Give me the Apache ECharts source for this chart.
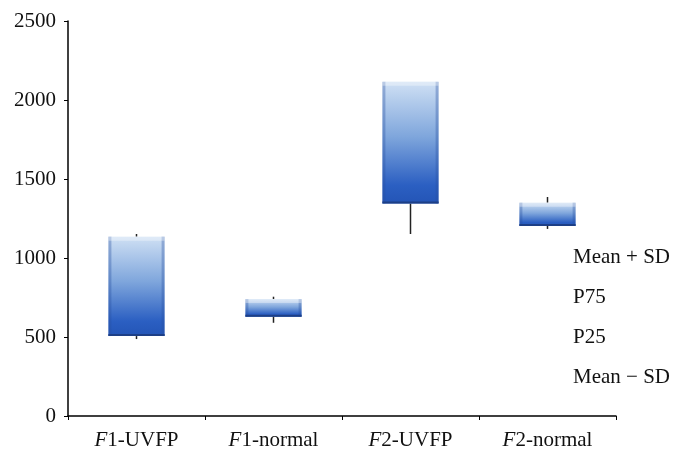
<!DOCTYPE html>
<html>
<head>
<meta charset="utf-8">
<script src="https://cdn.jsdelivr.net/npm/echarts@6/dist/echarts.min.js"></script>
<style>
  html, body { margin: 0; padding: 0; background: #fff; }
  #chart { width: 686px; height: 458px; }
</style>
</head>
<body>
<div id="chart"></div>
<script>
// groups on the x axis
var categories = ["F1-UVFP", "F1-normal", "F2-UVFP", "F2-normal"];
// box = P25..P75, whiskers = Mean - SD .. Mean + SD
var meanMinusSD = [487, 590, 1152, 1184];
var p25 = [506, 628, 1345, 1203];
var p75 = [1135, 740, 2115, 1350];
var meanPlusSD = [1152, 755, 2115, 1386];
var yTicks = [0, 500, 1000, 1500, 2000, 2500];
var legendTexts = ["Mean + SD", "P75", "P25", "Mean \u2212 SD"];

var serif = "'Liberation Serif', 'DejaVu Serif', serif";

var boxData = categories.map(function (c, i) {
  return [i, meanMinusSD[i], p25[i], p75[i], meanPlusSD[i]];
});

function renderBox(params, api) {
  var x = api.value(0);
  var lo = api.coord([x, api.value(1)]);
  var q1 = api.coord([x, api.value(2)]);
  var q3 = api.coord([x, api.value(3)]);
  var hi = api.coord([x, api.value(4)]);
  var w = api.size([1, 0])[0] * 0.41;
  var left = q1[0] - w / 2;
  var h = q1[1] - q3[1];
  var children = [];
  // whiskers
  if (hi[1] < q3[1]) {
    children.push({ type: "line", shape: { x1: q1[0], y1: q3[1], x2: q1[0], y2: hi[1] },
      style: { stroke: "#222", lineWidth: 1.5 } });
  }
  if (lo[1] > q1[1]) {
    children.push({ type: "line", shape: { x1: q1[0], y1: q1[1], x2: q1[0], y2: lo[1] },
      style: { stroke: "#222", lineWidth: 1.5 } });
  }
  // main box with vertical gradient
  children.push({ type: "rect", shape: { x: left, y: q3[1], width: w, height: h },
    style: { fill: new echarts.graphic.LinearGradient(0, 0, 0, 1, [
      { offset: 0, color: "#cfe0f4" },
      { offset: 0.45, color: "#7fa6dc" },
      { offset: 0.85, color: "#2b5fc2" },
      { offset: 1, color: "#2455b6" }
    ]) } });
  // bevel edges
  var bev = Math.min(4, h / 4);
  children.push({ type: "rect", shape: { x: left, y: q3[1], width: 3, height: h },
    style: { fill: "rgba(40,80,160,0.35)" } });
  children.push({ type: "rect", shape: { x: left + w - 3, y: q3[1], width: 3, height: h },
    style: { fill: "rgba(40,80,160,0.35)" } });
  children.push({ type: "rect", shape: { x: left, y: q3[1], width: w, height: bev },
    style: { fill: "rgba(255,255,255,0.35)" } });
  children.push({ type: "rect", shape: { x: left, y: q1[1] - 2, width: w, height: 2 },
    style: { fill: "#1d3f86" } });
  return { type: "group", children: children };
}

var chart = echarts.init(document.getElementById("chart"));
chart.setOption({
  animation: false,
  grid: { left: 68, right: 70, top: 21, bottom: 42 },
  xAxis: {
    type: "category",
    data: categories,
    axisLine: { lineStyle: { color: "#000", width: 1.5 } },
    axisTick: { show: true, length: 4, lineStyle: { color: "#000" } },
    axisLabel: {
      interval: 0,
      margin: 14,
      color: "#111",
      fontFamily: serif,
      fontSize: 21,
      formatter: function (v) {
        return "{i|" + v.charAt(0) + "}" + v.slice(1);
      },
      rich: { i: { fontStyle: "italic", fontFamily: serif, fontSize: 21, color: "#111" } }
    }
  },
  yAxis: {
    type: "value",
    min: yTicks[0],
    max: yTicks[yTicks.length - 1],
    interval: 500,
    splitLine: { show: false },
    axisLine: { show: true, lineStyle: { color: "#000", width: 1.5 } },
    axisTick: { show: true, length: 4, lineStyle: { color: "#000" } },
    axisLabel: {
      color: "#111", fontFamily: serif, fontSize: 21, margin: 12,
      formatter: function (v) { return String(v); }
    }
  },
  graphic: legendTexts.map(function (t, i) {
    return {
      type: "text",
      left: 573,
      top: 247 + i * 40,
      style: { text: t, fill: "#111", font: "21px " + serif }
    };
  }),
  series: [{
    type: "custom",
    renderItem: renderBox,
    encode: { x: 0, y: [1, 2, 3, 4] },
    data: boxData
  }]
});
</script>
</body>
</html>
